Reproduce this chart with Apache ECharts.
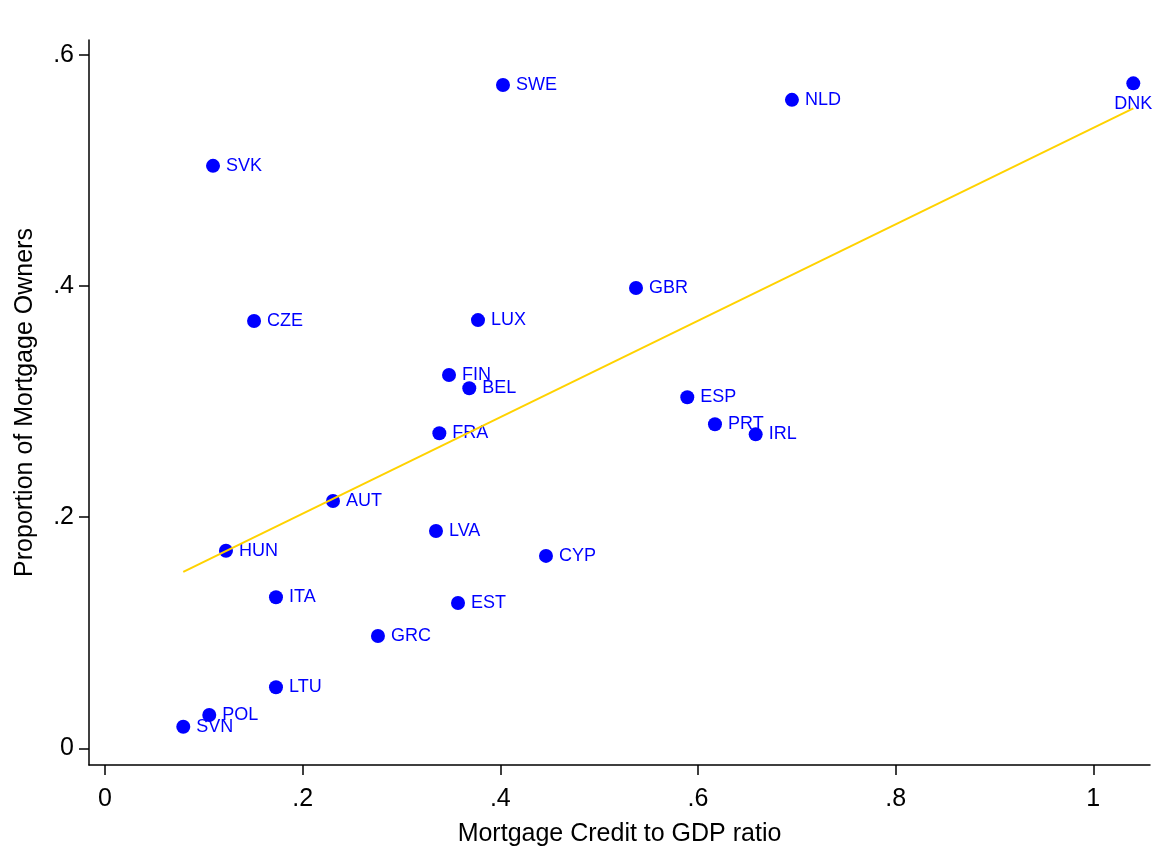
<!DOCTYPE html>
<html>
<head>
<meta charset="utf-8">
<script src="https://cdn.jsdelivr.net/npm/echarts@6/dist/echarts.min.js"></script>
<style>
html,body{margin:0;padding:0;background:#fff;}
#chart{width:1161px;height:852px;}
</style>
</head>
<body>
<div id="chart"></div>
<script>
// Country codes
const countries = ['SWE','NLD','DNK','SVK','GBR','CZE','LUX','FIN','BEL','FRA','ESP','PRT','IRL','AUT','LVA','CYP','HUN','ITA','EST','GRC','LTU','POL','SVN'];
// Mortgage Credit to GDP ratio
const creditToGdp = [0.4027,0.6951,1.0405,0.1093,0.5373,0.1508,0.3774,0.3481,0.3686,0.3383,0.5892,0.6172,0.6584,0.2307,0.3349,0.4462,0.1224,0.1730,0.3572,0.2762,0.1730,0.1055,0.0792];
// Proportion of Mortgage Owners
const mortgageOwners = [0.5740,0.5612,0.5755,0.5041,0.3984,0.3698,0.3706,0.3231,0.3116,0.2726,0.3038,0.2804,0.2717,0.2140,0.1881,0.1665,0.1710,0.1307,0.1257,0.0972,0.0528,0.0288,0.0187];
// Tick values
const xTicks = [0,0.2,0.4,0.6,0.8,1];
const yTicks = [0,0.2,0.4,0.6];

const FONT = '"Liberation Sans", Arial, Helvetica, sans-serif';
const fmt = v => {
  if (Math.abs(v) < 1e-9) return '0';
  if (Math.abs(v - 1) < 1e-9) return '1';
  return String(Math.round(v * 10) / 10).replace(/^0\./, '.');
};

// Linear fit (OLS) from the data
const n = creditToGdp.length;
const mx = creditToGdp.reduce((a, b) => a + b, 0) / n;
const my = mortgageOwners.reduce((a, b) => a + b, 0) / n;
let sxy = 0, sxx = 0;
for (let i = 0; i < n; i++) {
  sxy += (creditToGdp[i] - mx) * (mortgageOwners[i] - my);
  sxx += (creditToGdp[i] - mx) * (creditToGdp[i] - mx);
}
const slope = sxy / sxx;
const intercept = my - slope * mx;
const xMin = Math.min(...creditToGdp), xMax = Math.max(...creditToGdp);
const fitData = [[xMin, intercept + slope * xMin], [xMax, intercept + slope * xMax]];

const scatterData = countries.map((c, i) => {
  const d = { name: c, value: [creditToGdp[i], mortgageOwners[i]] };
  if (c === 'DNK') d.label = { position: 'bottom', distance: 5 };
  return d;
});

const chart = echarts.init(document.getElementById('chart'), null, { renderer: 'canvas' });
chart.setOption({
  animation: false,
  backgroundColor: '#ffffff',
  grid: { left: 89, right: 11, top: 40, bottom: 87, containLabel: false },
  xAxis: {
    type: 'value',
    min: -0.0162,
    max: 1.0574,
    name: 'Mortgage Credit to GDP ratio',
    nameLocation: 'middle',
    nameGap: 57,
    nameTextStyle: { fontFamily: FONT, fontSize: 25, color: '#000' },
    axisLine: { show: true, onZero: false, lineStyle: { color: '#000', width: 1.5 } },
    axisTick: { show: true, length: 10, customValues: xTicks, lineStyle: { color: '#000', width: 1.5 } },
    axisLabel: { customValues: xTicks, formatter: fmt, margin: 22, fontFamily: FONT, fontSize: 25, color: '#000' },
    splitLine: { show: false }
  },
  yAxis: {
    type: 'value',
    min: -0.01445,
    max: 0.613,
    name: 'Proportion of Mortgage Owners',
    nameLocation: 'middle',
    nameGap: 51,
    nameRotate: 90,
    nameTextStyle: { fontFamily: FONT, fontSize: 25, color: '#000' },
    axisLine: { show: true, onZero: false, lineStyle: { color: '#000', width: 1.5 } },
    axisTick: { show: true, length: 10, customValues: yTicks, lineStyle: { color: '#000', width: 1.5 } },
    axisLabel: { customValues: yTicks, formatter: fmt, margin: 15, padding: [5, 0, 0, 0], fontFamily: FONT, fontSize: 25, color: '#000' },
    splitLine: { show: false }
  },
  series: [
    {
      type: 'scatter',
      z: 2,
      symbol: 'circle',
      symbolSize: 14,
      itemStyle: { color: '#0000ff', opacity: 1 },
      label: {
        show: true,
        position: 'right',
        distance: 6,
        formatter: p => p.name,
        fontFamily: FONT,
        fontSize: 18,
        color: '#0000ff',
        opacity: 1
      },
      emphasis: { disabled: true },
      data: scatterData
    },
    {
      type: 'line',
      z: 5,
      symbol: 'none',
      silent: true,
      lineStyle: { color: '#FFD200', width: 2, opacity: 1 },
      data: fitData
    }
  ]
});
</script>
</body>
</html>
